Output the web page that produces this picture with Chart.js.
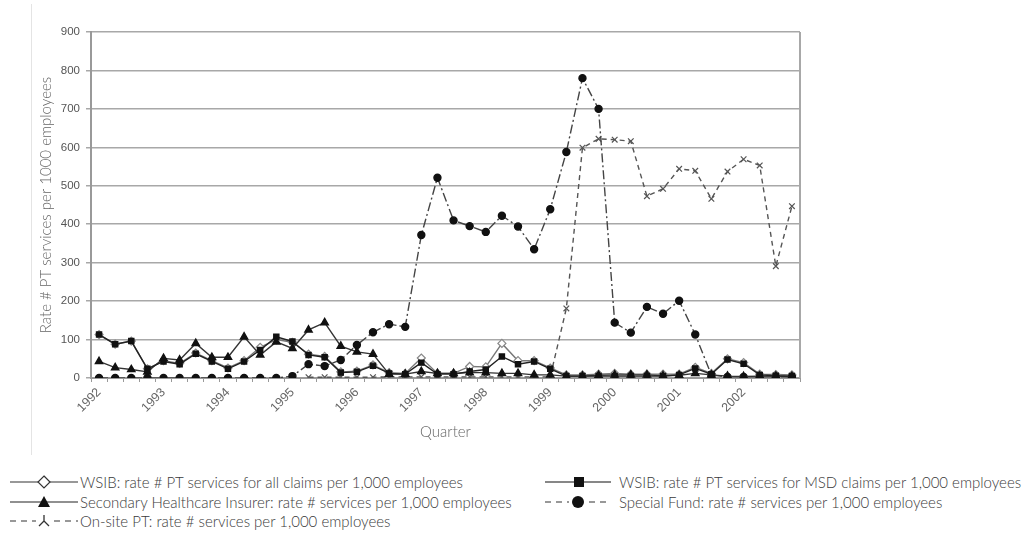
<!DOCTYPE html>
<html>
<head>
<meta charset="utf-8">
<script src="https://cdn.jsdelivr.net/npm/chart.js@4"></script>
<style>
  html, body { margin:0; padding:0; background:#fff; }
  body { width:1036px; height:537px; position:relative; overflow:hidden; font-family:"Lato","Open Sans",sans-serif; }
  #wrap { position:absolute; left:0; top:0; width:1036px; height:455px; }
  .leg { position:absolute; height:18px; display:flex; align-items:center; color:#3a3a3a; font-size:15px; font-weight:300; white-space:nowrap; }
  .leg svg { display:block; }
</style>
</head>
<body>
<div id="wrap"><canvas id="c" width="1036" height="455"></canvas></div>
<div class="leg" style="left:8px;top:473px;"><svg width="72" height="18"><line x1="2" y1="9" x2="70" y2="9" stroke="#333" stroke-width="1.2"/><polygon points="36,3 42,9 36,15 30,9" fill="#fff" stroke="#333" stroke-width="1.2"/></svg><span>WSIB: rate # PT services for all claims per 1,000 employees</span></div>
<div class="leg" style="left:8px;top:493px;"><svg width="72" height="18"><line x1="2" y1="9" x2="70" y2="9" stroke="#222" stroke-width="1.2"/><polygon points="36,3 42,14 30,14" fill="#111"/></svg><span>Secondary Healthcare Insurer: rate # services per 1,000 employees</span></div>
<div class="leg" style="left:8px;top:512px;"><svg width="72" height="18"><line x1="2" y1="9" x2="70" y2="9" stroke="#333" stroke-width="1.2" stroke-dasharray="6,5"/><rect x="28" y="2" width="16" height="14" fill="#fff"/><path d="M36 3 L36 9 M36 9 L31 14 M36 9 L41 14" stroke="#333" stroke-width="1.3" fill="none"/></svg><span>On-site PT: rate # services per 1,000 employees</span></div>
<div class="leg" style="left:543px;top:473px;"><svg width="72" height="18"><line x1="2" y1="9" x2="68" y2="9" stroke="#111" stroke-width="1.2"/><rect x="31" y="4" width="10" height="10" fill="#111"/></svg><span style="margin-left:4px">WSIB: rate # PT services for MSD claims per 1,000 employees</span></div>
<div class="leg" style="left:543px;top:493px;"><svg width="72" height="18"><line x1="2" y1="9" x2="68" y2="9" stroke="#333" stroke-width="1.2" stroke-dasharray="6,5"/><rect x="26" y="2" width="18" height="14" fill="#fff"/><circle cx="35" cy="9" r="6" fill="#111"/></svg><span style="margin-left:4px">Special Fund: rate # services per 1,000 employees</span></div>
<script>
// ---- data ----
const years = [1992,1993,1994,1995,1996,1997,1998,1999,2000,2001,2002];
const quarters = ["Q1","Q2","Q3","Q4"];
const yTicks = [0,100,200,300,400,500,600,700,800,900];

const wsibAll = [113,88,96,24,45,38,65,45,26,45,80,100,93,62,56,16,18,34,14,12,52,12,12,30,29,90,45,45,26,8,8,10,12,10,10,10,10,28,12,50,40,10,9,8];
const wsibMSD = [113,88,96,24,43,36,63,43,24,43,73,107,95,60,54,14,16,32,12,10,40,10,10,17,22,56,36,43,24,5,5,5,5,5,5,5,8,25,10,48,37,8,6,5];
const secondary = [43,27,22,16,51,47,90,54,54,107,60,94,77,125,144,83,68,62,10,10,17,12,12,14,14,12,12,8,8,5,5,7,8,8,8,6,7,12,8,5,4,5,5,4];
const specialFund = [0,0,0,0,0,0,0,0,0,0,0,0,5,36,31,47,86,119,140,133,372,521,410,395,380,422,394,335,439,588,780,700,144,118,185,167,201,113,8,3,3,3,3,3];
const onSite = [null,null,null,null,null,null,null,null,null,null,null,null,null,2,2,2,2,2,3,3,3,3,3,3,3,3,3,3,3,181,599,622,620,616,473,492,544,539,466,537,569,553,291,447];

const labels = [];
years.forEach(y => quarters.forEach(q => labels.push(y + " " + q)));

const framePlugin = {
  id: 'frame',
  afterDraw(chart) {
    const {ctx, chartArea} = chart;
    ctx.save();
    ctx.strokeStyle = '#a8a8a8';
    ctx.lineWidth = 2;
    ctx.beginPath();
    ctx.moveTo(chartArea.right, chartArea.top);
    ctx.lineTo(chartArea.right, chartArea.bottom);
    ctx.stroke();
    ctx.strokeStyle = '#e4e4e4';
    ctx.lineWidth = 1;
    ctx.beginPath();
    ctx.moveTo(31.5, 4);
    ctx.lineTo(31.5, 455);
    ctx.stroke();
    ctx.restore();
  }
};

new Chart(document.getElementById('c'), {
  type: 'line',
  data: {
    labels: labels,
    datasets: [
      { label: 'WSIB: rate # PT services for all claims per 1,000 employees', data: wsibAll, order: 5,
        borderColor: '#777', borderWidth: 1.4, pointStyle: 'rectRot', pointRadius: 4,
        pointBackgroundColor: '#fff', pointBorderColor: '#888', pointBorderWidth: 1.2, tension: 0 },
      { label: 'WSIB: rate # PT services for MSD claims per 1,000 employees', data: wsibMSD, order: 1,
        borderColor: '#222', borderWidth: 1.4, pointStyle: 'rect', pointRadius: 3.6,
        pointBackgroundColor: '#111', pointBorderColor: '#111', tension: 0 },
      { label: 'Secondary Healthcare Insurer: rate # services per 1,000 employees', data: secondary, order: 2,
        borderColor: '#333', borderWidth: 1.4, pointStyle: 'triangle', pointRadius: 4.2,
        pointBackgroundColor: '#111', pointBorderColor: '#111', tension: 0 },
      { label: 'Special Fund: rate # services per 1,000 employees', data: specialFund, order: 3,
        borderColor: '#444', borderWidth: 1.4, borderDash: [9,3,2,3], pointStyle: 'circle', pointRadius: 3.5,
        pointBackgroundColor: '#111', pointBorderColor: '#111', tension: 0 },
      { label: 'On-site PT: rate # services per 1,000 employees', data: onSite, order: 4,
        borderColor: '#555', borderWidth: 1.4, borderDash: [5,4], pointStyle: 'crossRot', pointRadius: 4,
        pointBackgroundColor: '#555', pointBorderColor: '#555', pointBorderWidth: 1.2, tension: 0, spanGaps: false }
    ]
  },
  options: {
    responsive: false,
    animation: false,
    layout: { padding: { left: 33, right: 236, top: 32, bottom: 0 } },
    plugins: { legend: { display: false }, tooltip: { enabled: false } },
    scales: {
      x: {
        type: 'category',
        offset: true,
        afterFit: s => { s.height = 77; },
        grid: { drawOnChartArea: false, drawTicks: true, tickLength: 4, color: '#999', offset: true },
        border: { color: '#999', width: 2 },
        ticks: {
          autoSkip: false, maxRotation: 45, minRotation: 45, padding: 3,
          color: '#666', font: { family: '"Liberation Sans", Arial, sans-serif', size: 12.5 },
          callback: function(v, i) { return i % 4 === 0 ? String(years[i / 4]) : ''; }
        },
        title: { display: true, text: 'Quarter', color: '#666',
          font: { family: 'Lato, sans-serif', size: 15, weight: '300' }, padding: { top: 0, bottom: 14 } }
      },
      y: {
        min: 0, max: 900,
        afterFit: s => { s.width = 58; },
        afterBuildTicks: s => { s.ticks = yTicks.map(v => ({ value: v })); },
        grid: { color: '#a8a8a8', lineWidth: 1.5, drawTicks: true, tickLength: 5 },
        border: { color: '#999', width: 2 },
        ticks: { padding: 6, color: '#555', font: { family: '"Liberation Sans", Arial, sans-serif', size: 11.5 } },
        title: { display: true, text: 'Rate # PT services per 1000 employees', color: '#666',
          font: { family: 'Lato, sans-serif', size: 15, weight: '300' }, padding: { top: 4, bottom: 4 } }
      }
    }
  },
  plugins: [framePlugin]
});
</script>
</body>
</html>
